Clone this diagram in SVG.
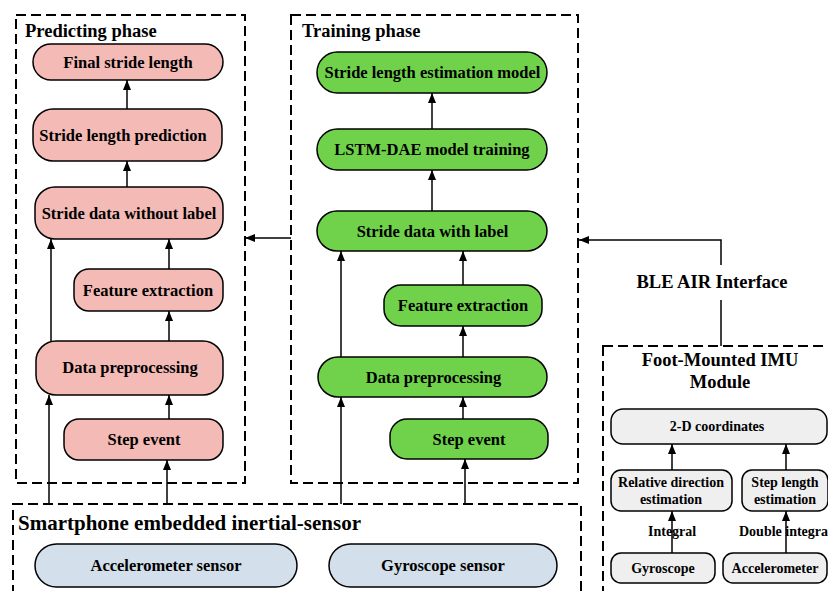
<svg xmlns="http://www.w3.org/2000/svg" width="828" height="591" viewBox="0 0 828 591">
<defs>
<marker id="ah" markerUnits="userSpaceOnUse" markerWidth="10" markerHeight="10" viewBox="0 0 10 10" refX="10" refY="5" orient="auto">
<path d="M0,1 L10,5 L0,9 Z" fill="#000"/>
</marker>
<style>
text{font-family:"Liberation Serif","Times New Roman",serif;font-weight:bold;fill:#000}
.n{font-size:16.5px;text-anchor:middle}
.t{font-size:18.5px}
.s{font-size:14px;text-anchor:middle}
.dash{fill:none;stroke:#000;stroke-width:2;stroke-dasharray:10,5}
.pk{fill:#f4bab6;stroke:#000;stroke-width:1.5}
.gr{fill:#6fd24a;stroke:#000;stroke-width:1.5}
.bl{fill:#d3dfea;stroke:#000;stroke-width:1.5}
.gy{fill:#efefef;stroke:#000;stroke-width:1.5}
.c{fill:none;stroke:#000;stroke-width:1.5}
.a{fill:none;stroke:#000;stroke-width:1.5;marker-end:url(#ah)}
</style>
</defs>

<g id="predicting-phase">
<rect class="dash" x="16" y="15" width="229" height="468"/>
<text class="t" x="25" y="37">Predicting phase</text>
</g>
<g id="training-phase">
<rect class="dash" x="291" y="15" width="287" height="468"/>
<text class="t" x="302" y="37">Training phase</text>
</g>
<g id="smartphone">
<rect class="dash" x="13" y="504" width="568" height="100"/>
<text x="18" y="530" style="font-size:21px">Smartphone embedded inertial-sensor</text>
</g>
<g id="foot-module">
<rect class="dash" x="603" y="346" width="240" height="260"/>
<text class="t" x="720" y="366" text-anchor="middle">Foot-Mounted IMU</text>
<text class="t" x="720" y="388" text-anchor="middle">Module</text>
</g>

<g id="p-final"><rect class="pk" x="33" y="44" width="190" height="36" rx="18"/><text class="n" x="128" y="68">Final stride length</text></g>
<g id="p-pred"><rect class="pk" x="33" y="109" width="189" height="52" rx="20"/><text class="n" x="123" y="141">Stride length prediction</text></g>
<g id="p-data"><rect class="pk" x="35" y="187" width="188" height="52" rx="20"/><text class="n" x="129" y="219">Stride data without label</text></g>
<g id="p-feat"><rect class="pk" x="74" y="269" width="149" height="42" rx="15"/><text class="n" x="148" y="296">Feature extraction</text></g>
<g id="p-prep"><rect class="pk" x="36" y="341" width="187" height="54" rx="20"/><text class="n" x="130" y="373">Data preprocessing</text></g>
<g id="p-step"><rect class="pk" x="64" y="419" width="159" height="41" rx="15"/><text class="n" x="144" y="445">Step event</text></g>

<g id="t-model"><rect class="gr" x="317" y="52" width="230" height="41" rx="20.5"/><text class="n" x="432.5" y="78">Stride length estimation model</text></g>
<g id="t-lstm"><rect class="gr" x="317" y="129" width="230" height="41" rx="20.5"/><text class="n" x="432" y="155">LSTM-DAE model training</text></g>
<g id="t-data"><rect class="gr" x="317" y="211" width="230" height="40" rx="20"/><text class="n" x="432.5" y="237">Stride data with label</text></g>
<g id="t-feat"><rect class="gr" x="384" y="285" width="158" height="41" rx="17"/><text class="n" x="463" y="311">Feature extraction</text></g>
<g id="t-prep"><rect class="gr" x="318" y="357" width="229" height="40" rx="20"/><text class="n" x="433.5" y="383">Data preprocessing</text></g>
<g id="t-step"><rect class="gr" x="390" y="419" width="158" height="40" rx="17"/><text class="n" x="469" y="445">Step event</text></g>

<g id="s-acc"><rect class="bl" x="35" y="544" width="262" height="43" rx="21.5"/><text class="n" x="166" y="571">Accelerometer sensor</text></g>
<g id="s-gyr"><rect class="bl" x="329" y="544" width="228" height="43" rx="21.5"/><text class="n" x="443" y="571">Gyroscope sensor</text></g>

<g id="f-coord"><rect class="gy" x="611" y="409" width="216" height="35" rx="12"/><text class="s" x="717" y="431">2-D coordinates</text></g>
<g id="f-rel"><rect class="gy" x="611" y="470" width="121" height="41" rx="10"/><text class="s" x="671" y="487">Relative direction</text><text class="s" x="671" y="504">estimation</text></g>
<g id="f-step"><rect class="gy" x="742" y="470" width="86" height="41" rx="10"/><text class="s" x="785" y="487">Step length</text><text class="s" x="785" y="504">estimation</text></g>
<g id="f-gyr"><rect class="gy" x="611" y="553" width="104" height="30" rx="10"/><text class="s" x="663" y="573">Gyroscope</text></g>
<g id="f-acc"><rect class="gy" x="723" y="553" width="104" height="30" rx="10"/><text class="s" x="775" y="573">Accelerometer</text></g>

<g id="connectors">
<line class="a" x1="127" y1="109" x2="127" y2="80"/>
<line class="a" x1="127" y1="187" x2="127" y2="161"/>
<line class="a" x1="51" y1="341" x2="51" y2="239"/>
<line class="a" x1="169" y1="269" x2="169" y2="239"/>
<line class="a" x1="169" y1="341" x2="169" y2="311"/>
<line class="a" x1="49" y1="504" x2="49" y2="395"/>
<line class="a" x1="169" y1="419" x2="169" y2="395"/>
<line class="a" x1="167" y1="504" x2="167" y2="460"/>

<line class="a" x1="432" y1="129" x2="432" y2="93"/>
<line class="a" x1="432" y1="211" x2="432" y2="170"/>
<line class="a" x1="341" y1="357" x2="341" y2="251"/>
<line class="a" x1="463" y1="285" x2="463" y2="251"/>
<line class="a" x1="463" y1="357" x2="463" y2="326"/>
<line class="a" x1="341" y1="504" x2="341" y2="397"/>
<line class="a" x1="463" y1="419" x2="463" y2="397"/>
<line class="a" x1="465" y1="504" x2="465" y2="459"/>

<line class="a" x1="291" y1="238" x2="245" y2="238"/>
<line class="c" x1="721" y1="346" x2="721" y2="300"/>
<path class="a" d="M721,265 V240 H579"/>

<line class="a" x1="672" y1="470" x2="672" y2="444"/>
<line class="a" x1="786" y1="470" x2="786" y2="444"/>
<line class="a" x1="672" y1="553" x2="672" y2="511"/>
<line class="a" x1="786" y1="553" x2="786" y2="511"/>
</g>
<text x="712" y="288" style="font-size:18.5px" text-anchor="middle">BLE AIR Interface</text>
<text x="648" y="536" style="font-size:14px">Integral</text>
<text x="739" y="536" style="font-size:14px">Double integra</text>
</svg>
